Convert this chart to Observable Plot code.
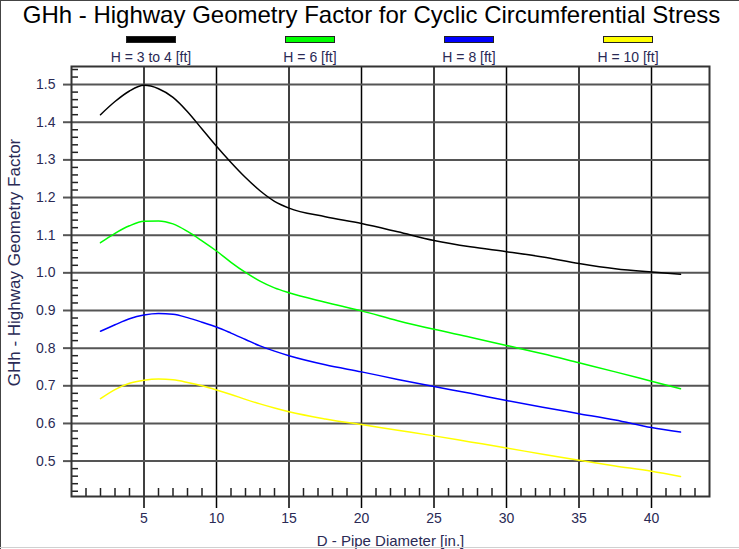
<!DOCTYPE html>
<html><head><meta charset="utf-8">
<script src="https://cdn.jsdelivr.net/npm/d3@7"></script>
<script src="https://cdn.jsdelivr.net/npm/@observablehq/plot@0.6"></script>
<style>
html,body{margin:0;padding:0;background:#fff;}
#wrap{position:relative;width:739px;height:549px;overflow:hidden;font-family:Arial,"Liberation Sans",sans-serif;}
#title{position:absolute;left:2px;top:1px;width:739px;text-align:center;font-size:24px;line-height:28px;color:#000;white-space:nowrap;}
.sw{position:absolute;top:36px;width:48px;height:5px;border:1px solid #222;}
.lab{position:absolute;top:49px;width:140px;text-align:center;font-size:14px;line-height:16px;color:#2a2a55;white-space:nowrap;}
#chart{position:absolute;left:0;top:60px;}
.bd{position:absolute;}
</style></head><body>
<div id="wrap">
  <div id="title">GHh - Highway Geometry Factor for Cyclic Circumferential Stress</div>
  <div id="legend"></div>
  <div id="chart"></div>
  <div class="bd" style="left:0;top:0;width:739px;height:1px;background:#444"></div>
  <div class="bd" style="left:0;top:0;width:1px;height:549px;background:#444"></div>
  <div class="bd" style="left:0;top:547px;width:739px;height:1px;background:#d0d0d0"></div>
</div>
<script>
// ---- data ----
const D = [2,3,4,5,6,7,8,9,10,11,12,13,14,15,17.5,20,22.5,25,27.5,30,32.5,35,37.5,40,42];
const gh_H3to4 = [1.42,1.455,1.483,1.498,1.489,1.466,1.428,1.382,1.336,1.293,1.253,1.218,1.19,1.172,1.149,1.131,1.109,1.086,1.069,1.056,1.042,1.025,1.011,1.002,0.996];
const gh_H6    = [1.08,1.105,1.125,1.137,1.138,1.13,1.11,1.085,1.058,1.028,1.001,0.978,0.96,0.947,0.922,0.899,0.873,0.85,0.829,0.807,0.785,0.761,0.737,0.712,0.692];
const gh_H8    = [0.845,0.862,0.878,0.888,0.892,0.89,0.881,0.869,0.856,0.84,0.823,0.806,0.792,0.78,0.756,0.737,0.717,0.698,0.68,0.661,0.643,0.626,0.609,0.589,0.577];
const gh_H10   = [0.666,0.69,0.707,0.715,0.718,0.716,0.709,0.7,0.689,0.677,0.664,0.652,0.641,0.631,0.612,0.597,0.582,0.567,0.551,0.535,0.518,0.502,0.487,0.473,0.459];
const seriesNames = ["H = 3 to 4 [ft]", "H = 6 [ft]", "H = 8 [ft]", "H = 10 [ft]"];
const seriesValues = [gh_H3to4, gh_H6, gh_H8, gh_H10];
const seriesColors = ["#000000", "#00ff00", "#0000ff", "#ffff00"];
const xTicks = [5,10,15,20,25,30,35,40];
const yTicks = [0.5,0.6,0.7,0.8,0.9,1.0,1.1,1.2,1.3,1.4,1.5];
const xLabel = "D - Pipe Diameter [in.]";
const yLabel = "GHh - Highway Geometry Factor";

const minorX = d3.range(1, 44).filter(v => v % 5 !== 0);
const minorY = d3.range(42, 155, 2).map(v => v / 100).filter(v => Math.round(v * 100) % 10 !== 0);

const rows = seriesNames.flatMap((name, i) => D.map((d, j) => ({D: d, GH: seriesValues[i][j], series: name})));

// ---- legend ----
const legend = document.getElementById("legend");
seriesNames.forEach((name, i) => {
  const cx = 151 + i * 159;
  const sw = document.createElement("div");
  sw.className = "sw";
  sw.style.left = (cx - 25) + "px";
  sw.style.background = seriesColors[i];
  legend.appendChild(sw);
  const lb = document.createElement("div");
  lb.className = "lab";
  lb.style.left = (cx - 70) + "px";
  lb.textContent = name;
  legend.appendChild(lb);
});

// ---- chart ----
const txt = "#2a2a55";
const chart = Plot.plot({
  width: 739,
  height: 489,
  marginLeft: 71,
  marginRight: 30,
  marginTop: 6,
  marginBottom: 53,
  style: {fontFamily: "Arial, 'Liberation Sans', sans-serif", color: txt, background: "transparent", overflow: "visible"},
  x: {domain: [0, 44]},
  y: {domain: [0.406, 1.548]},
  color: {domain: seriesNames, range: seriesColors},
  marks: [
    Plot.gridX(xTicks, {stroke: "#000", strokeOpacity: 1, strokeWidth: 1.5}),
    Plot.gridY(yTicks, {stroke: "#555", strokeOpacity: 1, strokeWidth: 2}),
    Plot.axisX(xTicks, {anchor: "bottom", tickSize: 12, tickPadding: 5, fontSize: 14, stroke: "#000", strokeWidth: 1.5, label: null}),
    Plot.axisY(yTicks, {anchor: "left", tickSize: 8, tickPadding: 8, fontSize: 14, stroke: "#555", strokeWidth: 2, label: null, tickFormat: d3.format(".1f")}),
    Plot.axisX(minorX, {anchor: "bottom", tickSize: 8, dy: -8, stroke: "#222", strokeWidth: 1.5, tickFormat: () => "", label: null}),
    Plot.axisY(minorY, {anchor: "left", tickSize: 7, dx: 7, stroke: "#222", strokeWidth: 1.5, tickFormat: () => "", label: null}),
    Plot.line(rows, {x: "D", y: "GH", z: "series", stroke: "series", curve: "monotone-x", strokeWidth: 1.5}),
    Plot.frame({stroke: "#333", strokeWidth: 2}),
    Plot.text([xLabel], {frameAnchor: "bottom", dy: 45, lineAnchor: "middle", textAnchor: "middle", fontSize: 15, fill: txt}),
    Plot.text([yLabel], {frameAnchor: "left", dx: -57, dy: -19, rotate: -90, textAnchor: "middle", lineAnchor: "middle", fontSize: 17, fill: txt})
  ]
});
document.getElementById("chart").appendChild(chart);
</script>
</body></html>
